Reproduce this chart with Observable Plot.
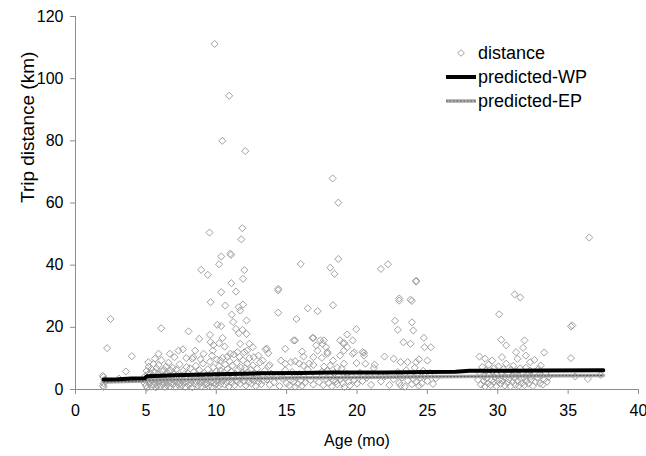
<!DOCTYPE html>
<html>
<head>
<meta charset="utf-8">
<script src="https://cdn.jsdelivr.net/npm/d3@7"></script>
<script src="https://cdn.jsdelivr.net/npm/@observablehq/plot@0.6"></script>
<style>
  html, body { margin: 0; padding: 0; background: #fff; }
  #chart { position: relative; width: 646px; height: 456px; }
</style>
</head>
<body>
<div id="chart"></div>
<script>
// ---- Data ----
// Scatter: age in months and trip distance in km
const ageMo = [
  // outliers / upper points
  9.88, 10.92, 10.43, 12.06, 9.52, 11.85, 11.78, 10.36, 11.0, 11.05, 10.2, 8.93, 9.4, 12.0, 11.9, 11.07, 14.4, 16.0,
  18.27, 18.67, 18.67, 18.1, 18.4, 21.7, 22.2, 24.2, 23.0, 23.8, 31.2, 31.6, 36.5, 35.2, 35.2, 36.4,
  // early ages
  2.49, 2.25, 4.0, 3.58, 1.94, 1.95, 2.0, 2.05, 1.98, 2.1, 2.0, 3.1,
  // 5-14 mid points
  6.09, 8.03, 8.79, 9.6, 10.35, 11.4, 10.64, 10.07, 10.35, 11.1, 11.6, 11.9, 11.7, 12.15, 11.2, 11.4, 11.6, 11.87,
  9.55, 10.45, 9.6, 10.2, 9.76, 10.6, 7.32, 7.63, 6.7, 7.87, 8.36, 8.88, 5.9, 5.64, 5.17, 12.35, 13.0, 12.6, 13.5,
  12.2, 10.8, 11.5, 12.15, 9.8, 11.7, 13.7, 8.5, 9.1, 7.03, 8.3, 9.7, 10.3, 11.0, 12.67, 13.3,
  // 13-27 mid points
  14.4, 14.4, 15.7, 16.5, 17.2, 18.3, 24.2, 23.0, 23.9, 22.7, 23.9, 22.9, 24.0, 19.95, 19.3, 16.84, 15.5, 13.6,
  14.9, 16.1, 17.4, 17.55, 18.8, 19.7, 19.1, 23.3, 23.8, 24.75, 24.8, 25.25, 21.96, 22.6, 25.0, 20.5, 20.5, 19.8,
  19.97, 21.25, 21.2, 23.1, 23.6, 24.2, 24.4, 13.7, 14.6, 14.9, 15.6, 16.2, 17.2, 17.9, 18.3, 18.8, 19.3, 18.6,
  19.07, 18.1, 17.65, 16.9, 16.6, 15.6, 16.9, 17.65, 17.1, 17.8, 17.9, 17.5, 15.3, 13.8, 15.9, 16.2, 16.9, 23.1,
  19.0, 19.7, 19.07, 20.4, 20.6,
  // 28-37 mid points
  30.1, 35.3, 30.25, 30.6, 31.9, 31.8, 31.3, 33.3, 30.3, 28.7, 29.1, 32.0, 32.3, 32.6, 29.6, 31.4, 33.05,
  // dense band 4.8-7.5
  4.9, 4.95, 5.0, 5.0, 5.05, 5.1, 5.1, 5.15, 5.2, 5.2, 5.25, 5.3, 5.3, 5.35, 5.4, 5.4, 5.45, 5.5, 5.5, 5.55,
  5.6, 5.6, 5.65, 5.7, 5.7, 5.75, 5.8, 5.8, 5.85, 5.9, 5.9, 5.95, 6.0, 6.0, 6.05, 6.1, 6.1, 6.15, 6.2, 6.2,
  6.25, 6.3, 6.3, 6.35, 6.4, 6.4, 6.45, 6.5, 6.5, 6.55, 6.6, 6.6, 6.65, 6.7, 6.7, 6.75, 6.8, 6.85, 6.9, 6.9,
  6.95, 7.0, 7.0, 7.1, 7.1, 7.15, 7.2, 7.25, 7.3, 7.35, 7.4, 7.45,
  // dense band 7.5-9.3
  7.5, 7.55, 7.6, 7.65, 7.7, 7.75, 7.8, 7.85, 7.9, 7.95, 8.0, 8.05, 8.1, 8.15, 8.2, 8.25, 8.3, 8.35, 8.4, 8.45,
  8.5, 8.55, 8.6, 8.65, 8.7, 8.75, 8.8, 8.85, 8.9, 8.95, 9.0, 9.05, 9.1, 9.15, 9.2, 9.25,
  // dense band 9.3-13.5
  9.3, 9.35, 9.4, 9.45, 9.5, 9.55, 9.6, 9.65, 9.7, 9.75, 9.8, 9.85, 9.9, 9.95, 10.0, 10.0, 10.05, 10.1, 10.15, 10.2,
  10.2, 10.25, 10.3, 10.35, 10.4, 10.45, 10.5, 10.55, 10.6, 10.65, 10.7, 10.75, 10.8, 10.85, 10.9, 10.95, 11.0, 11.05, 11.1, 11.15,
  11.2, 11.25, 11.3, 11.35, 11.4, 11.45, 11.5, 11.55, 11.6, 11.65, 11.7, 11.75, 11.8, 11.85, 11.9, 11.95, 12.0, 12.0, 12.05, 12.1,
  12.15, 12.2, 12.25, 12.3, 12.35, 12.4, 12.45, 12.5, 12.55, 12.6, 12.7, 12.75, 12.8, 12.85, 12.9, 13.0, 13.05, 13.1, 13.2, 13.3,
  13.35, 13.45,
  // band 13.5-21.5
  13.6, 13.8, 13.9, 14.1, 14.3, 14.5, 14.7, 14.9, 15.0, 15.1, 15.2, 15.3, 15.4, 15.5, 15.6, 15.7, 15.8, 15.9, 16.0, 16.1,
  16.2, 16.3, 16.5, 16.7, 16.9, 17.1, 17.3, 17.5, 17.6, 17.8, 17.9, 18.0, 18.1, 18.2, 18.3, 18.4, 18.5, 18.6, 18.7, 18.8,
  18.9, 19.0, 19.1, 19.2, 19.3, 19.4, 19.5, 19.6, 19.8, 20.0, 20.2, 20.4, 20.7, 21.0, 21.3,
  // band 21.5-25.8
  21.7, 22.0, 22.3, 22.6, 22.9, 23.0, 23.2, 23.4, 23.5, 23.6, 23.8, 23.9, 24.0, 24.1, 24.2, 24.3, 24.4, 24.5, 24.6, 24.7,
  24.8, 25.0, 25.2, 25.4, 25.6,
  // band 28.5-33.7
  28.6, 28.7, 28.8, 28.9, 29.0, 29.05, 29.1, 29.15, 29.2, 29.3, 29.35, 29.4, 29.5, 29.55, 29.6, 29.7, 29.75, 29.8, 29.9, 29.95,
  30.0, 30.05, 30.1, 30.2, 30.25, 30.3, 30.4, 30.45, 30.5, 30.55, 30.6, 30.7, 30.75, 30.8, 30.9, 30.95, 31.0, 31.05, 31.1, 31.2,
  31.25, 31.3, 31.4, 31.45, 31.5, 31.6, 31.65, 31.7, 31.8, 31.85, 31.9, 32.0, 32.05, 32.1, 32.2, 32.3, 32.35, 32.4, 32.5, 32.6,
  32.7, 32.8, 32.9, 33.0, 33.1, 33.2, 33.3, 33.4, 33.5, 33.6,
  // late sparse
  35.5, 37.3
];
const tripKm = [
  111.2, 94.5, 80.0, 76.7, 50.5, 51.9, 48.3, 42.8, 43.7, 43.3, 40.3, 38.5, 36.9, 38.4, 35.6, 34.2, 32.4, 40.4,
  67.9, 60.1, 42.0, 39.2, 37.2, 38.8, 40.3, 35.0, 29.3, 28.9, 30.6, 29.6, 48.9, 20.3, 10.1, 3.4,
  22.7, 13.3, 10.7, 5.8, 4.4, 1.2, 2.0, 3.1, 4.0, 2.6, 0.8, 3.5,
  19.7, 18.7, 16.3, 28.1, 31.3, 31.5, 27.0, 20.8, 20.4, 24.1, 26.5, 27.3, 25.4, 22.2, 21.7, 19.5, 18.1, 19.2,
  17.6, 16.6, 15.2, 14.9, 12.5, 13.8, 12.5, 12.9, 11.5, 10.1, 10.4, 9.7, 11.5, 9.9, 8.8, 14.7, 10.9, 13.6, 12.9,
  12.5, 10.6, 12.0, 17.9, 14.3, 14.7, 11.7, 12.5, 11.5, 10.4, 9.9, 10.9, 9.3, 11.5, 10.4, 9.3,
  31.9, 24.7, 22.7, 26.1, 25.2, 27.1, 34.7, 28.6, 28.5, 22.1, 21.6, 19.2, 19.0, 19.4, 17.7, 16.6, 15.8, 13.1,
  13.1, 12.2, 15.8, 14.7, 15.8, 15.8, 14.9, 15.2, 14.7, 16.6, 13.6, 13.6, 10.6, 9.9, 9.3, 11.8, 10.9, 11.9,
  8.5, 8.0, 6.9, 8.8, 8.8, 8.8, 9.7, 7.5, 9.3, 8.3, 9.1, 10.6, 12.5, 12.0, 9.3, 10.9, 13.6, 7.0,
  8.3, 7.7, 7.4, 10.4, 8.3, 15.8, 16.6, 15.8, 14.2, 13.6, 11.5, 10.2, 8.8, 7.9, 8.3, 7.7, 7.9, 1.3,
  14.9, 11.5, 12.5, 12.0, 8.3,
  24.2, 20.6, 16.0, 14.2, 15.8, 13.4, 12.0, 11.9, 10.4, 10.6, 9.9, 10.9, 8.8, 9.5, 9.3, 9.9, 7.7,
  2.1, 4.3, 1.2, 3.5, 6.0, 2.8, 0.6, 4.8, 3.1, 7.3, 1.8, 5.4, 2.4, 3.9, 0.9, 6.6, 2.9, 4.4, 1.5, 8.2,
  3.3, 5.7, 2.0, 4.0, 0.7, 6.9, 3.0, 1.3, 5.0, 2.5, 7.8, 3.8, 1.1, 4.6, 2.7, 9.4, 3.4, 5.9, 1.6, 4.1,
  2.2, 6.3, 3.2, 0.8, 4.9, 2.6, 7.4, 3.6, 1.4, 5.3, 2.3, 8.6, 4.2, 1.0, 3.0, 6.1, 2.0, 4.5, 3.3, 7.0,
  1.7, 5.2, 2.8, 3.9, 0.9, 6.4, 2.4, 4.7, 1.5, 3.5, 8.1, 2.1,
  4.4, 1.3, 3.0, 6.0, 2.2, 4.9, 0.8, 3.6, 7.2, 2.6, 5.1, 1.4, 3.3, 6.8, 2.0, 4.2, 0.7, 3.0, 5.6, 1.8,
  3.9, 7.6, 2.4, 4.8, 1.2, 3.4, 6.2, 2.1, 4.5, 1.0, 3.2, 8.4, 2.7, 5.3, 1.6, 3.8,
  4.6, 2.0, 6.5, 1.1, 3.4, 8.9, 2.5, 5.0, 0.9, 3.9, 7.1, 2.2, 4.4, 1.5, 5.9, 3.0, 9.6, 2.4, 4.9, 1.2,
  7.5, 3.5, 6.1, 2.0, 4.2, 10.2, 3.0, 5.5, 1.6, 8.0, 3.7, 2.3, 6.6, 4.6, 1.0, 9.0, 3.3, 5.8, 2.1, 7.7,
  4.1, 11.3, 1.4, 5.0, 3.0, 8.6, 2.5, 6.3, 4.4, 10.5, 1.8, 7.0, 3.6, 5.4, 9.4, 2.6, 12.0, 4.8, 6.9, 1.3,
  3.9, 8.3, 5.6, 2.3, 10.1, 4.3, 6.4, 1.9, 3.3, 7.8, 2.8, 5.1, 1.1, 4.0, 6.7, 2.4, 3.6, 8.7, 1.7, 4.8,
  2.9, 6.0,
  3.2, 1.5, 5.1, 2.3, 4.0, 1.1, 3.5, 6.2, 2.0, 4.5, 1.3, 3.0, 5.6, 2.5, 0.9, 3.9, 1.8, 5.0, 2.9, 1.2,
  4.2, 2.2, 6.4, 3.1, 1.6, 4.6, 2.4, 5.7, 1.4, 3.4, 6.0, 2.1, 4.1, 1.0, 3.0, 5.3, 2.6, 1.7, 4.4, 3.2,
  6.7, 2.0, 0.8, 3.7, 5.0, 2.5, 1.3, 4.3, 3.0, 1.9, 5.4, 2.7, 3.8, 1.5, 4.7,
  2.6, 4.2, 1.4, 3.3, 5.6, 2.1, 3.9, 0.9, 6.2, 2.9, 4.6, 1.7, 3.5, 7.0, 2.4, 5.1, 1.2, 3.8, 2.0, 6.0,
  4.3, 2.7, 5.3, 1.8, 3.6,
  3.1, 5.5, 1.6, 7.2, 2.7, 4.3, 1.0, 6.1, 3.5, 2.0, 8.0, 4.7, 1.4, 3.0, 5.8, 2.3, 6.9, 3.9, 1.1, 4.9,
  2.6, 7.4, 3.3, 1.8, 5.4, 2.9, 6.5, 4.0, 1.3, 3.6, 8.3, 2.2, 5.0, 3.2, 1.0, 6.4, 4.4, 2.5, 7.6, 3.7,
  1.5, 5.7, 2.8, 4.6, 1.2, 6.8, 3.4, 2.0, 5.2, 3.9, 1.4, 7.0, 2.7, 4.8, 1.9, 6.0, 3.1, 4.2, 1.1, 5.5,
  2.4, 3.8, 6.6, 2.0, 4.5, 1.6, 3.2, 5.3, 2.5, 4.0,
  4.2, 4.7
];

// Predicted lines
const wpAge = [2.0, 3.0, 4.0, 4.9, 5.1, 7.0, 10.0, 13.0, 16.0, 18.0, 22.0, 25.0, 27.0, 28.0, 33.0, 37.5];
const wpKm  = [3.2, 3.3, 3.5, 3.6, 4.3, 4.6, 4.9, 5.2, 5.3, 5.5, 5.5, 5.6, 5.7, 6.0, 6.1, 6.2];
const epAge = [2.0, 4.9, 5.1, 8.0, 12.0, 16.0, 20.0, 25.0, 30.0, 37.5];
const epKm  = [2.4, 2.7, 3.0, 3.2, 3.5, 3.8, 3.9, 4.1, 4.3, 4.5];

const xTicks = [0, 5, 10, 15, 20, 25, 30, 35, 40];
const yTicks = [0, 20, 40, 60, 80, 100, 120];

const legendLabels = ["distance", "predicted-WP", "predicted-EP"];

// ---- Build tables ----
const points = ageMo.map((a, i) => ({age: a, km: tripKm[i]}));
const wp = wpAge.map((a, i) => ({age: a, km: wpKm[i]}));
const ep = epAge.map((a, i) => ({age: a, km: epKm[i]}));

const FONT = "'Liberation Sans', Arial, Helvetica, sans-serif";
const AXIS_GRAY = "#8c8c8c";
const PT_GRAY = "#a0a0a0";

const chart = Plot.plot({
  width: 646,
  height: 456,
  marginLeft: 75,
  marginRight: 8,
  marginTop: 16,
  marginBottom: 67,
  style: {fontFamily: FONT, fontSize: "16px", color: "#000", background: "#fff"},
  x: {domain: [0, 40], ticks: xTicks, label: null},
  y: {domain: [0, 120], ticks: yTicks, label: null},
  marks: [
    Plot.ruleY([0], {stroke: AXIS_GRAY, strokeWidth: 1}),
    Plot.ruleX([0], {stroke: AXIS_GRAY, strokeWidth: 1}),
    Plot.axisX({ticks: xTicks, tickSize: 5, tickPadding: 10, stroke: AXIS_GRAY, fill: "#000", fontSize: 16, label: null}),
    Plot.axisY({ticks: yTicks, tickSize: 5, tickPadding: 7, stroke: AXIS_GRAY, fill: "#000", fontSize: 16, label: null}),
    Plot.dot(points, {x: "age", y: "km", symbol: "diamond2", r: 3.2, stroke: PT_GRAY, strokeWidth: 1, fill: "none"}),
    Plot.line(ep, {x: "age", y: "km", stroke: "#a6a6a6", strokeWidth: 3.5}),
    Plot.line(ep, {x: "age", y: "km", stroke: "#5a5a5a", strokeWidth: 1, strokeDasharray: "1.5,2"}),
    Plot.line(wp, {x: "age", y: "km", stroke: "#000", strokeWidth: 4}),
    Plot.text(["Age (mo)"], {frameAnchor: "bottom", dy: 56, fontSize: 16, fill: "#000"}),
    Plot.text(["Trip distance (km)"], {frameAnchor: "left", rotate: -90, dx: -48, fontSize: 19, fill: "#000"})
  ]
});

document.getElementById("chart").appendChild(chart);

// ---- Legend (drawn inside the plot area, top-right) ----
const svg = d3.select(chart);
const lg = svg.append("g").attr("font-family", FONT).attr("font-size", 18).attr("fill", "#000")
  .attr("text-anchor", "start");
const rowsY = [53, 77, 101];
lg.append("path")
  .attr("d", d3.symbol(d3.symbolDiamond2, Math.PI * 9)())
  .attr("transform", `translate(461,${rowsY[0]})`)
  .attr("fill", "none").attr("stroke", PT_GRAY).attr("stroke-width", 1);
lg.append("line").attr("x1", 446).attr("x2", 476).attr("y1", rowsY[1]).attr("y2", rowsY[1])
  .attr("stroke", "#000").attr("stroke-width", 4);
lg.append("line").attr("x1", 446).attr("x2", 476).attr("y1", rowsY[2]).attr("y2", rowsY[2])
  .attr("stroke", "#a6a6a6").attr("stroke-width", 3.5);
lg.append("line").attr("x1", 446).attr("x2", 476).attr("y1", rowsY[2]).attr("y2", rowsY[2])
  .attr("stroke", "#5a5a5a").attr("stroke-width", 1).attr("stroke-dasharray", "1.5,2");
legendLabels.forEach((t, i) => {
  lg.append("text").attr("x", 478).attr("y", rowsY[i]).attr("dy", "0.35em").attr("text-anchor", "start").text(t);
});
</script>
</body>
</html>
